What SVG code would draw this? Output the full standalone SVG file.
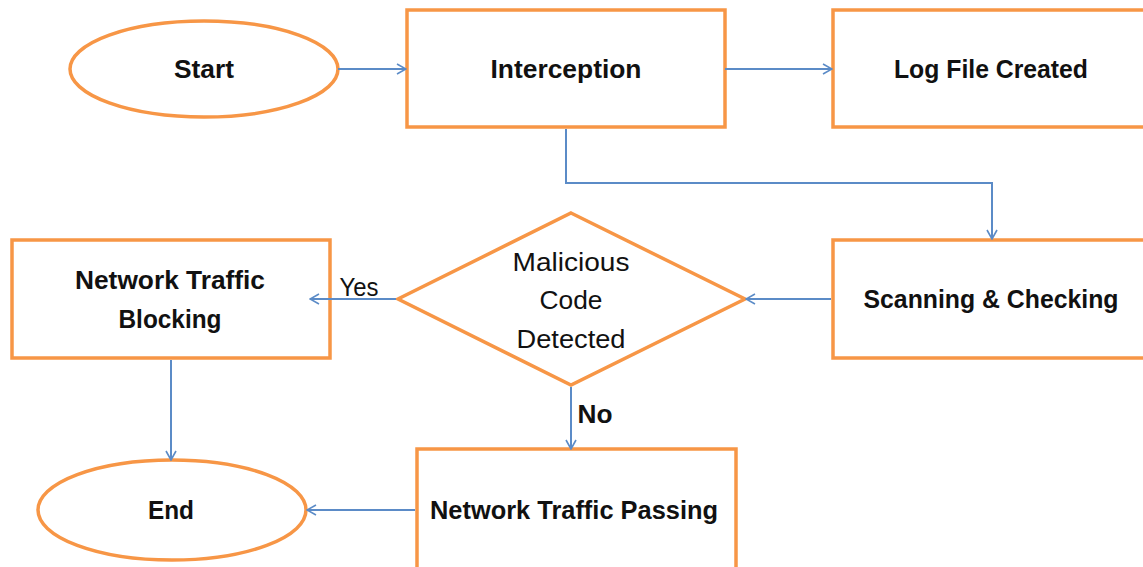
<svg xmlns="http://www.w3.org/2000/svg" width="1143" height="567" viewBox="0 0 1143 567">
<defs>
<style>
.n{fill:#fff;stroke:#F79646;stroke-width:3.5}
.c{fill:none;stroke:#5B8BC7;stroke-width:2}
.t{font-family:"Liberation Sans",Arial,sans-serif;font-size:25px;font-weight:bold;fill:#111;text-anchor:middle}
.r{font-family:"Liberation Sans",Arial,sans-serif;font-size:25px;fill:#111;text-anchor:middle}
</style>
<marker id="a" viewBox="0 0 12 12" refX="11" refY="6" markerWidth="12" markerHeight="12" markerUnits="userSpaceOnUse" orient="auto">
<path d="M2,1 L11,6 L2,11" fill="none" stroke="#5B8BC7" stroke-width="1.6"/>
</marker>
</defs>
<rect width="1143" height="567" fill="#fff"/>
<g id="start">
<ellipse class="n" cx="204" cy="69" rx="134" ry="48"/>
<text class="t" x="204" y="78" textLength="60" lengthAdjust="spacingAndGlyphs">Start</text>
</g>
<g id="interception">
<rect class="n" x="407" y="10" width="318" height="117"/>
<text class="t" x="566" y="78" textLength="151" lengthAdjust="spacingAndGlyphs">Interception</text>
</g>
<g id="logfile">
<rect class="n" x="833" y="10" width="320" height="117"/>
<text class="t" x="991" y="78" textLength="194" lengthAdjust="spacingAndGlyphs">Log File Created</text>
</g>
<g id="scanning">
<rect class="n" x="833" y="240" width="320" height="118"/>
<text class="t" x="991" y="308" textLength="255" lengthAdjust="spacingAndGlyphs">Scanning &amp; Checking</text>
</g>
<g id="decision">
<polygon class="n" points="571,213 745,299 571,385 398,299"/>
<text class="r" x="571" y="271" textLength="117" lengthAdjust="spacingAndGlyphs">Malicious</text>
<text class="r" x="571" y="309" textLength="63" lengthAdjust="spacingAndGlyphs">Code</text>
<text class="r" x="571" y="348" textLength="109" lengthAdjust="spacingAndGlyphs">Detected</text>
</g>
<g id="blocking">
<rect class="n" x="12" y="240" width="318" height="118"/>
<text class="t" x="170" y="289" textLength="190" lengthAdjust="spacingAndGlyphs">Network Traffic</text>
<text class="t" x="170" y="328" textLength="103" lengthAdjust="spacingAndGlyphs">Blocking</text>
</g>
<g id="passing">
<rect class="n" x="417" y="449" width="319" height="130"/>
<text class="t" x="574" y="519" textLength="288" lengthAdjust="spacingAndGlyphs">Network Traffic Passing</text>
</g>
<g id="end">
<ellipse class="n" cx="172" cy="510" rx="134" ry="50"/>
<text class="t" x="171" y="519" textLength="46" lengthAdjust="spacingAndGlyphs">End</text>
</g>
<g id="connectors">
<line class="c" x1="338" y1="69" x2="406" y2="69" marker-end="url(#a)"/>
<line class="c" x1="725" y1="69" x2="832" y2="69" marker-end="url(#a)"/>
<polyline class="c" points="566,129 566,183 992,183 992,239" marker-end="url(#a)"/>
<line class="c" x1="831" y1="299" x2="746" y2="299" marker-end="url(#a)"/>
<line class="c" x1="396" y1="299" x2="310" y2="299" marker-end="url(#a)"/>
<line class="c" x1="171" y1="360" x2="171" y2="460" marker-end="url(#a)"/>
<line class="c" x1="571" y1="387" x2="571" y2="449" marker-end="url(#a)"/>
<line class="c" x1="415" y1="510" x2="307" y2="510" marker-end="url(#a)"/>
<text class="r" x="359" y="296" textLength="39" lengthAdjust="spacingAndGlyphs">Yes</text>
<text class="t" x="595" y="423" textLength="35" lengthAdjust="spacingAndGlyphs">No</text>
</g>
</svg>
